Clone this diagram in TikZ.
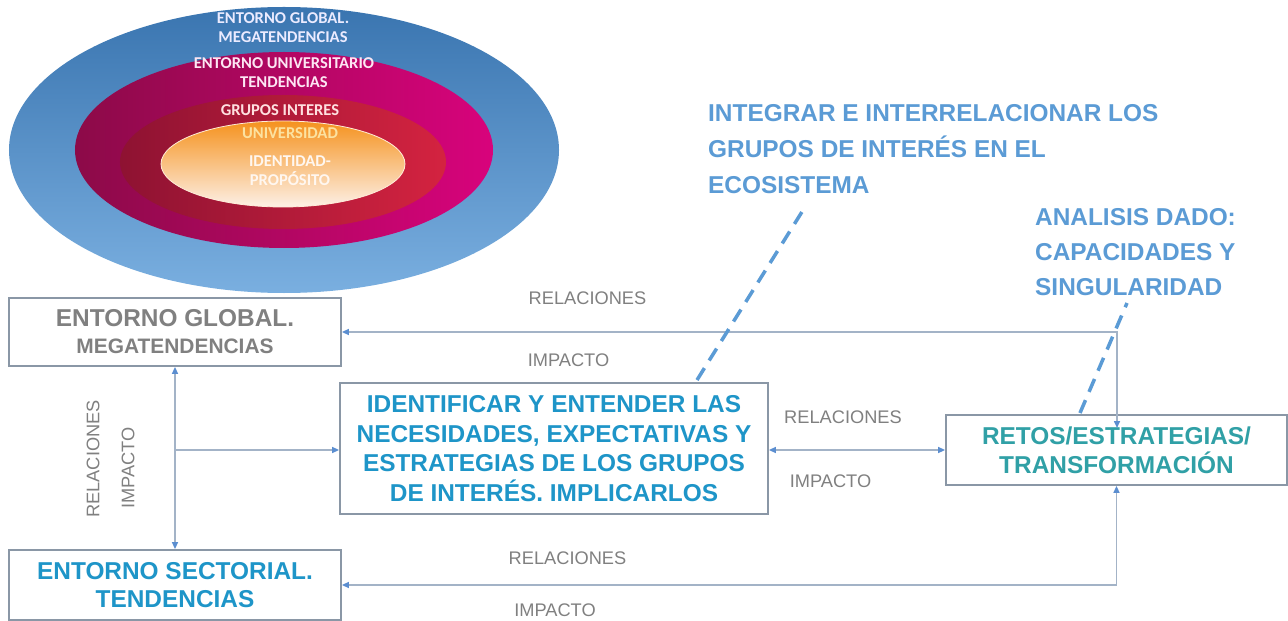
\documentclass[tikz,border=0pt]{standalone}
\usepackage{fontspec}
\setmainfont{Liberation Sans}
\newfontfamily\calibfont{Carlito}
\usetikzlibrary{arrows.meta}
\definecolor{boxline}{HTML}{8A97A6}
\definecolor{connline}{HTML}{A3B3C7}
\definecolor{tipblue}{HTML}{5B8ED0}
\definecolor{labgray}{HTML}{808080}
\definecolor{bluetxt}{HTML}{1E95C8}
\definecolor{tealtxt}{HTML}{30A0A6}
\definecolor{notetxt}{HTML}{5B9BD5}
\definecolor{outerA}{HTML}{3A75B0}
\definecolor{outerB}{HTML}{7AAFE0}
\definecolor{magA}{HTML}{8C0A48}
\definecolor{magB}{HTML}{D8037C}
\definecolor{redA}{HTML}{8E1232}
\definecolor{redB}{HTML}{D42340}
\definecolor{orgA}{HTML}{F5921E}
\definecolor{orgB}{HTML}{FDF0E6}
\definecolor{univ}{HTML}{FCE2A0}
\begin{document}
\begin{tikzpicture}[x=1bp,y=-1bp,
  >={Triangle[length=7bp,width=6bp,color=tipblue]},
  box/.style={draw=boxline, line width=1.8bp, inner sep=0pt, align=center,
    font=\bfseries\fontsize{24.5}{29.7}\selectfont},
  conn/.style={draw=connline, line width=1.5bp},
  dashline/.style={draw=notetxt, line width=3.5bp, dash pattern=on 14bp off 9bp},
  lab/.style={text=labgray, inner sep=0pt, font=\fontsize{18.3}{20}\selectfont},
  note/.style={text=notetxt, inner sep=0pt, align=left, anchor=west,
    font=\bfseries\fontsize{24.5}{36}\selectfont},
  eltxt/.style={inner sep=0pt, align=center, font=\calibfont\bfseries\fontsize{16.6}{19}\selectfont}
]
\useasboundingbox (0,0) rectangle (1288,621);
\fill[white] (0,0) rectangle (1288,621);

% concentric ellipses
\shade[top color=outerA, bottom color=outerB] (284,150) ellipse [x radius=275bp, y radius=143bp];
\shade[left color=magA, right color=magB] (284,150) ellipse [x radius=209bp, y radius=98bp];
\shade[left color=redA, right color=redB] (283,162) ellipse [x radius=163bp, y radius=67bp];
\shade[top color=orgA, bottom color=orgB, draw=white!85!orange, line width=0.8bp] (283,164) ellipse [x radius=122bp, y radius=43bp];

\node[eltxt, text=white!92!blue] (e1) at (283,27.5) {ENTORNO GLOBAL.\\MEGATENDENCIAS};
\node[eltxt, text=white!90!magenta] (e2) at (284,72.5) {ENTORNO UNIVERSITARIO\\TENDENCIAS};
\node[eltxt, text=white!88!red] (e3) at (280,110) {GRUPOS INTERES};
\node[eltxt, text=univ] (e4) at (290,133) {UNIVERSIDAD};
\node[eltxt, text=white!94!orange] (e5) at (290,171) {IDENTIDAD-\\PROPÓSITO};

% boxes
\node[box, text=labgray, minimum width=332bp, minimum height=68bp,
  font=\bfseries\fontsize{24.5}{27}\selectfont] (glob) at (175,332)
  {ENTORNO GLOBAL.\\{\fontsize{21}{27}\selectfont MEGATENDENCIAS}};
\node[box, text=bluetxt, minimum width=332bp, minimum height=70bp,
  font=\bfseries\fontsize{24.5}{28}\selectfont] (sect) at (175,585)
  {ENTORNO SECTORIAL.\\TENDENCIAS};
\node[box, text=bluetxt, minimum width=428bp, minimum height=131bp] (ident) at (554,448.5)
  {IDENTIFICAR Y ENTENDER LAS\\NECESIDADES, EXPECTATIVAS Y\\ESTRATEGIAS DE LOS GRUPOS\\DE INTERÉS. IMPLICARLOS};
\node[box, text=tealtxt, minimum width=341bp, minimum height=70bp,
  font=\bfseries\fontsize{24.5}{29}\selectfont] (retos) at (1116.5,450)
  {RETOS/ESTRATEGIAS/\\TRANSFORMACIÓN};

% notes
\node[note] (integ) at (708,149) {INTEGRAR E INTERRELACIONAR LOS\\GRUPOS DE INTERÉS EN EL\\ECOSISTEMA};
\node[note, font=\bfseries\fontsize{24.5}{35}\selectfont] (anal) at (1035,252) {ANALISIS DADO:\\CAPACIDADES Y\\SINGULARIDAD};

% connectors
\coordinate (rin) at (1117,428);
\draw[conn,<->] (rin) |- (glob.east);
\draw[conn,<->] (retos.south) |- (sect.east);
\draw[conn,<->] (ident.east |- retos.west) -- (retos.west);
\draw[conn,<->] (glob.south) -- (sect.north);
\draw[conn,->] (glob.south |- retos.west) -- (ident.west |- retos.west);

% dashed callouts
\coordinate (d1a) at (697,380);
\coordinate (d1b) at (805,207);
\coordinate (d2a) at (1080,413);
\coordinate (d2b) at (1127,303);
\draw[dashline] (d1a) -- (d1b);
\draw[dashline] (d2a) -- (d2b);

% labels
\node[lab] (lr1) at (587.5,298) {RELACIONES};
\node[lab] (li1) at (568.5,360) {IMPACTO};
\node[lab] (lr2) at (843,417) {RELACIONES};
\node[lab] (li2) at (830.5,481) {IMPACTO};
\node[lab] (lr3) at (567.5,558) {RELACIONES};
\node[lab] (li3) at (555,610) {IMPACTO};
\node[lab, rotate=90] (lr4) at (93,459) {RELACIONES};
\node[lab, rotate=90] (li4) at (128,468) {IMPACTO};
\end{tikzpicture}
\end{document}
